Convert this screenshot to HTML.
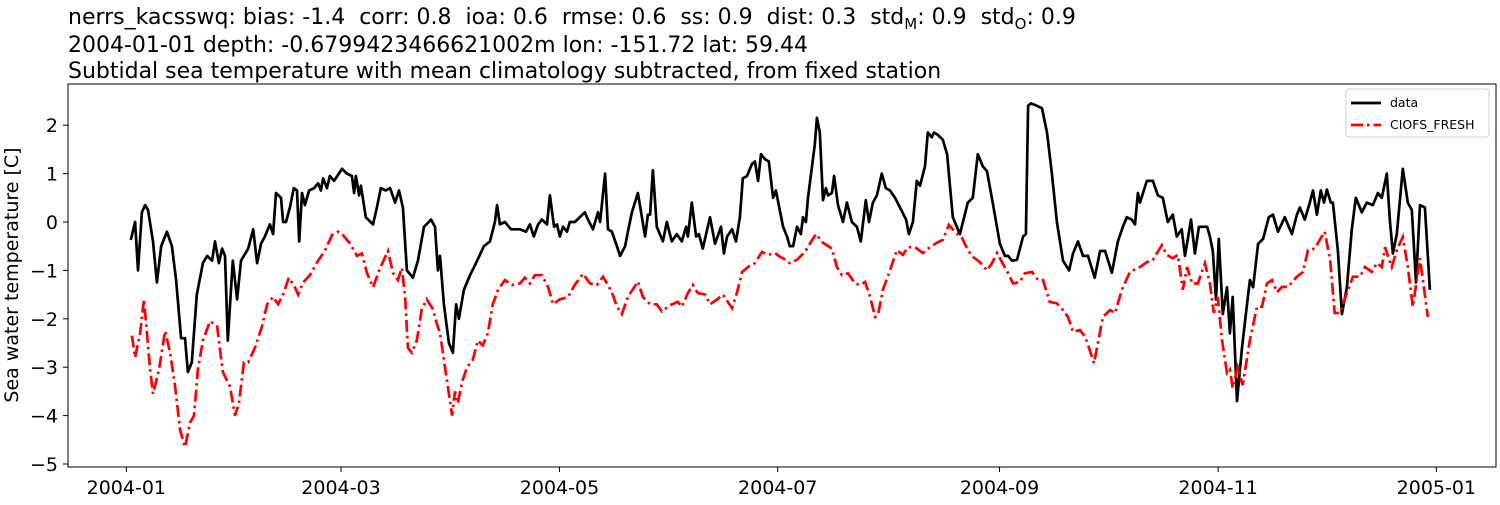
<!DOCTYPE html>
<html><head><meta charset="utf-8">
<style>
html,body{margin:0;padding:0;background:#fff;}
body{width:1500px;height:500px;overflow:hidden;font-family:"Liberation Sans","DejaVu Sans",sans-serif;}
svg text{font-family:"DejaVu Sans","Liberation Sans",sans-serif;white-space:pre;}
</style></head>
<body>
<svg id="chart" width="1500" height="500" xmlns="http://www.w3.org/2000/svg" xml:space="preserve">
<g font-size="22" fill="#000">
<text x="68" y="24">nerrs_kacsswq: bias: -1.4  corr: 0.8  ioa: 0.6  rmse: 0.6  ss: 0.9  dist: 0.3  std<tspan font-size="15" dy="5">M</tspan><tspan dy="-5">: 0.9  std</tspan><tspan font-size="15" dy="5">O</tspan><tspan dy="-5">: 0.9</tspan></text>
<text x="68" y="52">2004-01-01 depth: -0.6799423466621002m lon: -151.72 lat: 59.44</text>
<text x="68" y="78">Subtidal sea temperature with mean climatology subtracted, from fixed station</text>
</g>
<text transform="translate(18,275) rotate(-90)" text-anchor="middle" font-size="19">Sea water temperature [C]</text>
<g id="yticks"></g>
<g id="xticks"></g>
<g id="series"></g>
<rect x="68" y="84" width="1428" height="383" fill="none" stroke="#000" stroke-width="1"/>
<g>
<rect x="1346" y="89" width="143" height="48" rx="3" fill="#fff" stroke="#ccc" stroke-width="1"/>
<g>
<line x1="1351" y1="103" x2="1381" y2="103" stroke="#000" stroke-width="2.7"/>
<text x="1390" y="107" font-size="12.5">data</text>
</g>
<g>
<line x1="1351" y1="125" x2="1381" y2="125" stroke="#f00" stroke-width="2.7" stroke-dasharray="12,4,2.5,4"/>
<text x="1390" y="129" font-size="12.5">CIOFS_FRESH</text>
</g>
</g>
</svg>
<script>
const yTicks=[2,1,0,-1,-2,-3,-4,-5];
const xTickDays=[0.93,61.13,122.4,183.6,245.8,307.1,368.3];
const xTickLabels=["2004-01","2004-03","2004-05","2004-07","2004-09","2004-11","2005-01"];
const dataDays=[2.2,3.4,4.2,5.3,6.2,7.0,8.4,9.5,10.7,12.3,13.7,14.9,16.3,17.4,18.2,19.3,20.7,22.4,23.6,25.0,25.8,26.9,27.8,28.6,29.4,30.8,32.0,33.1,35.1,36.5,37.6,38.7,39.8,41.2,42.1,42.9,44.3,44.9,45.7,46.8,47.9,48.8,49.4,50.2,51.0,52.2,53.6,54.7,55.5,56.1,57.2,58.0,59.2,61.4,62.8,64.2,64.8,65.3,66.2,66.7,68.1,70.1,71.2,72.3,73.7,74.9,76.3,77.4,78.5,79.6,81.3,82.7,84.4,86.4,87.5,88.3,88.9,90.0,91.4,92.5,93.4,94.2,95.6,97.3,99.0,101.2,102.9,104.3,104.9,105.7,107.1,108.8,111.3,113.0,114.1,115.2,116.4,117.5,118.9,119.7,120.9,121.7,122.5,123.4,124.5,125.3,126.7,128.1,129.5,130.4,131.8,133.2,133.8,135.2,136.0,137.1,138.5,139.4,140.8,141.6,142.7,144.4,146.4,147.2,147.8,148.6,149.7,151.4,152.5,153.9,155.3,156.7,157.9,158.4,159.5,160.7,161.5,162.6,164.6,166.0,167.7,168.5,169.4,170.8,171.9,173.0,173.8,175.0,176.4,177.2,178.1,178.9,180.0,181.1,182.3,183.1,185.1,186.2,187.0,187.9,189.0,190.1,190.7,191.5,192.1,193.2,194.0,194.6,195.4,196.3,197.1,197.7,198.8,199.4,200.5,201.9,203.0,204.4,205.8,206.9,208.3,209.2,210.3,211.4,212.8,213.9,215.1,216.5,217.9,219.6,220.4,221.5,222.6,223.5,224.9,225.7,226.8,227.4,228.5,229.9,231.1,232.7,234.7,236.9,238.3,239.7,241.1,242.3,243.9,245.9,247.3,248.2,249.3,250.7,252.4,253.2,253.8,254.6,256.3,257.7,259.1,260.5,261.9,263.6,265.3,266.4,267.8,269.2,270.6,272.5,274.0,275.4,277.3,279.0,280.4,281.5,282.9,283.8,284.6,285.2,287.1,288.8,290.2,291.6,293.0,294.4,295.5,296.9,297.8,299.5,300.6,301.7,304.0,304.8,305.6,306.5,307.3,308.4,309.6,310.4,311.2,312.4,313.8,315.2,316.0,316.9,318.3,319.7,321.3,322.5,323.9,325.8,327.8,329.2,330.0,331.4,332.8,333.7,334.8,335.9,336.8,337.6,338.7,339.3,340.7,341.8,343.2,344.6,345.7,347.4,348.8,350.5,351.9,353.0,354.4,355.3,356.1,357.2,358.9,360.3,361.4,362.6,363.7,365.1,366.5];
const dataValues=[-0.37,0.0,-1.0,0.2,0.35,0.25,-0.4,-1.25,-0.5,-0.2,-0.5,-1.2,-2.4,-2.4,-3.1,-2.9,-1.5,-0.85,-0.7,-0.8,-0.4,-0.85,-0.55,-0.7,-2.45,-0.8,-1.6,-0.8,-0.55,-0.15,-0.85,-0.45,-0.3,-0.05,-0.25,0.6,0.5,0.0,0.0,0.3,0.7,0.65,-0.4,0.6,0.35,0.65,0.7,0.8,0.65,0.9,0.7,0.95,0.85,1.1,1.0,0.95,0.6,0.95,0.55,0.75,0.1,-0.05,0.3,0.7,0.65,0.7,0.4,0.65,0.3,-1.0,-1.15,-0.8,-0.1,0.05,-0.1,-1.0,-0.7,-1.7,-2.5,-2.7,-1.7,-2.0,-1.4,-1.1,-0.85,-0.5,-0.4,0.0,0.35,-0.05,0.0,-0.15,-0.15,-0.2,-0.05,-0.3,-0.05,0.05,-0.05,0.55,-0.1,-0.05,-0.3,-0.1,-0.2,0.0,0.0,0.1,0.2,0.05,-0.15,0.2,0.0,1.0,-0.15,-0.2,-0.5,-0.7,-0.5,-0.2,0.2,0.6,-0.3,0.15,0.15,1.07,-0.1,-0.4,0.0,-0.4,-0.25,-0.4,-0.1,-0.3,0.4,-0.3,-0.25,-0.55,0.1,-0.45,-0.1,-0.65,-0.3,-0.15,-0.4,0.1,0.9,0.95,1.2,1.25,0.85,1.4,1.3,1.25,0.5,0.65,-0.1,-0.3,-0.5,-0.5,-0.1,-0.25,0.1,0.0,0.5,1.15,1.6,2.15,1.85,0.45,0.7,0.55,0.6,0.95,0.35,0.0,0.4,0.0,-0.1,-0.4,0.45,0.0,0.4,0.55,1.0,0.7,0.65,0.5,0.3,0.05,-0.25,0.0,0.85,0.75,1.15,1.85,1.75,1.85,1.8,1.7,1.4,0.1,-0.25,0.4,0.5,1.4,1.15,1.05,0.4,-0.45,-0.7,-0.7,-0.8,-0.78,-0.3,-0.25,2.4,2.45,2.4,2.35,1.85,1.0,0.0,-0.8,-1.0,-0.65,-0.4,-0.7,-0.7,-1.15,-0.6,-0.6,-1.05,-0.4,-0.1,0.1,0.05,-0.05,0.6,0.4,0.85,0.85,0.55,0.5,0.0,0.15,-0.3,-0.15,-0.7,0.05,-0.65,-0.1,-0.1,-0.3,-0.6,-1.6,-0.35,-1.9,-1.35,-2.3,-1.55,-3.7,-2.6,-1.7,-1.2,-1.35,-0.45,-0.35,0.1,0.15,-0.2,0.1,-0.25,0.15,0.3,0.05,0.4,0.65,0.15,0.65,0.4,0.67,0.4,0.4,-0.6,-1.9,-1.35,-0.15,0.5,0.2,0.4,0.35,0.6,0.5,1.0,0.0,-0.65,-0.25,1.1,0.4,0.25,-1.25,0.35,0.3,-1.4];
const modelDays=[2.5,3.4,4.8,5.9,7.6,8.4,10.1,11.8,13.2,14.6,16.0,17.4,18.8,19.9,21.0,22.4,24.4,26.4,28.0,30.0,31.4,32.5,33.9,35.1,37.0,39.0,40.4,42.1,43.5,44.9,46.5,48.2,49.1,50.5,52.4,54.7,56.6,58.6,60.3,61.7,63.7,65.6,67.0,68.4,70.1,72.1,74.3,75.7,77.1,78.2,79.1,79.9,81.0,82.4,83.8,85.2,86.9,88.0,88.9,90.3,91.7,92.3,93.1,93.9,95.1,96.5,98.1,99.5,100.9,102.3,103.7,105.2,107.1,109.1,111.3,112.7,114.1,115.5,117.5,119.2,120.6,122.5,124.8,126.7,129.0,131.0,132.9,134.6,137.1,138.5,139.9,141.6,144.4,145.8,147.8,149.7,151.1,153.4,155.6,156.7,158.4,159.8,161.2,163.2,164.6,166.6,168.2,170.8,172.2,173.6,175.8,177.2,179.2,180.9,182.8,184.2,185.1,187.0,189.0,191.2,194.3,196.3,198.8,200.2,201.6,203.3,205.3,206.7,208.1,209.5,210.9,211.7,213.1,215.1,217.0,218.7,220.1,222.1,224.3,226.3,228.2,229.9,231.6,233.3,235.3,236.9,238.3,240.3,242.3,243.7,245.1,246.5,248.2,249.6,251.5,252.9,254.9,256.6,258.0,259.9,261.9,263.6,265.0,266.4,268.3,269.8,270.9,272.3,273.4,274.8,276.8,278.2,280.1,282.4,285.2,287.1,288.8,291.3,292.7,294.4,295.8,297.2,298.4,299.8,301.4,303.4,304.8,305.9,307.0,308.2,309.6,310.4,311.2,312.6,314.0,316.0,318.0,319.4,320.8,322.2,323.6,325.0,326.7,329.2,330.9,332.3,334.2,335.6,337.0,338.5,339.8,341.2,343.2,344.9,346.9,348.3,350.2,351.6,353.0,353.9,355.8,357.2,358.9,360.3,361.7,363.7,365.9];
const modelValues=[-2.35,-2.8,-2.3,-1.6,-3.05,-3.55,-3.05,-2.25,-2.7,-3.4,-4.3,-4.65,-4.15,-4.0,-3.05,-2.45,-2.05,-2.15,-3.1,-3.4,-4.0,-3.75,-2.9,-2.9,-2.6,-2.15,-1.7,-1.55,-1.7,-1.5,-1.15,-1.35,-1.5,-1.25,-1.1,-0.8,-0.6,-0.27,-0.2,-0.27,-0.45,-0.7,-0.65,-1.05,-1.35,-0.95,-0.6,-1.05,-1.2,-0.95,-1.55,-2.6,-2.7,-2.45,-1.8,-1.6,-1.8,-2.1,-2.3,-3.0,-3.7,-4.0,-3.5,-3.75,-3.3,-3.0,-2.85,-2.45,-2.55,-2.3,-1.7,-1.4,-1.2,-1.3,-1.27,-1.15,-1.27,-1.1,-1.1,-1.35,-1.7,-1.6,-1.55,-1.3,-1.07,-1.27,-1.3,-1.13,-1.45,-1.75,-1.9,-1.55,-1.23,-1.55,-1.7,-1.7,-1.85,-1.72,-1.65,-1.75,-1.47,-1.3,-1.47,-1.5,-1.7,-1.6,-1.5,-1.78,-1.45,-1.03,-0.9,-0.85,-0.62,-0.68,-0.64,-0.72,-0.75,-0.85,-0.78,-0.62,-0.25,-0.43,-0.55,-0.93,-1.1,-1.06,-1.27,-1.3,-1.24,-1.55,-1.96,-1.93,-1.4,-1.0,-0.58,-0.68,-0.52,-0.52,-0.64,-0.52,-0.43,-0.37,-0.06,-0.2,-0.33,-0.58,-0.72,-0.83,-1.0,-0.85,-0.64,-0.83,-1.06,-1.27,-1.24,-1.06,-1.03,-1.2,-1.2,-1.65,-1.68,-1.82,-1.96,-2.27,-2.23,-2.37,-2.6,-2.92,-2.5,-1.96,-1.82,-1.88,-1.4,-1.03,-0.93,-0.83,-0.78,-0.48,-0.68,-0.75,-0.68,-1.4,-0.93,-1.27,-1.27,-0.85,-1.27,-1.88,-1.55,-2.44,-3.12,-3.05,-3.43,-3.0,-3.37,-2.44,-1.75,-1.75,-1.27,-1.2,-1.45,-1.34,-1.34,-1.13,-1.03,-0.58,-0.55,-0.37,-0.2,-0.78,-1.88,-1.88,-1.47,-1.13,-1.13,-0.93,-1.03,-0.85,-0.93,-0.52,-0.93,-0.58,-0.31,-0.93,-1.75,-0.75,-1.96];

const NS="http://www.w3.org/2000/svg";
function xScale(d){return 123+d*3.566;}
function yScale(v){return 222-v*48.4;}
const yG=document.getElementById('yticks');
yTicks.forEach(v=>{
  const y=yScale(v);
  const ln=document.createElementNS(NS,'line');
  
  
  ln.setAttribute('x1',63);ln.setAttribute('x2',68);ln.setAttribute('y1',y);ln.setAttribute('y2',y);
  ln.setAttribute('stroke','#000');
  yG.appendChild(ln);
  const t=document.createElementNS(NS,'text');
  
  
  t.setAttribute('x',58);t.setAttribute('y',y+7);t.setAttribute('text-anchor','end');t.setAttribute('font-size','19');
  t.textContent=(v<0?'\u2212'+(-v):String(v));
  yG.appendChild(t);
});
const xG=document.getElementById('xticks');
xTickDays.forEach((d,i)=>{
  const x=xScale(d);
  const ln=document.createElementNS(NS,'line');
  
  
  ln.setAttribute('x1',x);ln.setAttribute('x2',x);ln.setAttribute('y1',467);ln.setAttribute('y2',472);
  ln.setAttribute('stroke','#000');
  xG.appendChild(ln);
  const t=document.createElementNS(NS,'text');
  
  
  t.setAttribute('x',x);t.setAttribute('y',494);t.setAttribute('text-anchor','middle');t.setAttribute('font-size','19');
  t.textContent=xTickLabels[i];
  xG.appendChild(t);
});
function pathFor(days,vals){
  return days.map((d,i)=>(i?'L':'M')+xScale(d).toFixed(1)+','+yScale(vals[i]).toFixed(1)).join(' ');
}
const sG=document.getElementById('series');
const pd=document.createElementNS(NS,'path');


pd.setAttribute('d',pathFor(dataDays,dataValues));
pd.setAttribute('fill','none');pd.setAttribute('stroke','#000');pd.setAttribute('stroke-width','2.7');pd.setAttribute('stroke-linejoin','round');
sG.appendChild(pd);
const pm=document.createElementNS(NS,'path');


pm.setAttribute('d',pathFor(modelDays,modelValues));
pm.setAttribute('fill','none');pm.setAttribute('stroke','#f00');pm.setAttribute('stroke-width','2.7');pm.setAttribute('stroke-dasharray','12,4,2.5,4');
sG.appendChild(pm);
</script>
</body></html>
